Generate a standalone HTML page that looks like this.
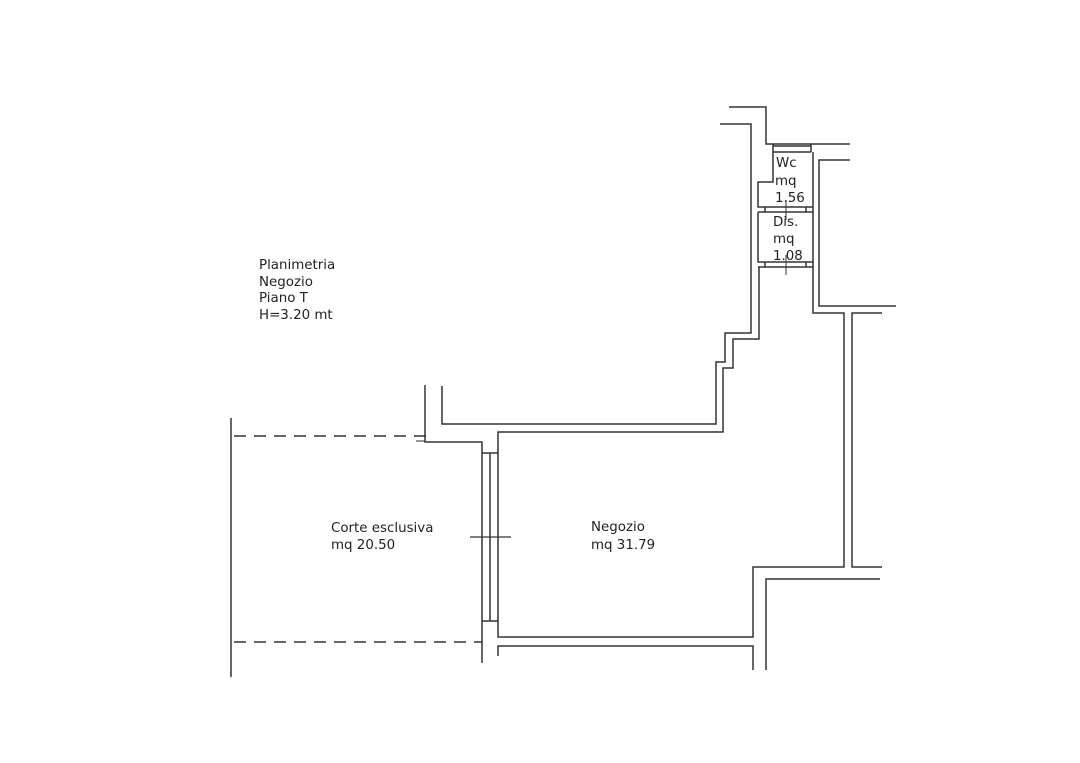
<!DOCTYPE html>
<html><head><meta charset="utf-8"><style>
html,body{margin:0;padding:0;background:#fff;width:1080px;height:763px;overflow:hidden}
svg{display:block}
text{font-family:"DejaVu Sans","Liberation Sans",sans-serif;font-size:13.4px;fill:#222}
</style></head><body>
<svg width="1080" height="763" viewBox="0 0 1080 763" xmlns="http://www.w3.org/2000/svg">
<g fill="none" stroke="#333" stroke-width="1.5">
<polyline points="729,107 766,107 766,144 850,144"/>
<polyline points="720,124 751,124 751,333 725,333 725,362 716,362 716,424 442,424 442,386"/>
<polyline points="813,152 813,313 844,313 844,567 753,567 753,637 498,637 498,432 723,432 723,368 733,368 733,339 759,339 759,267"/>
<polyline points="850,160 819,160 819,306 896,306"/>
<polyline points="882,313 852,313 852,567 882,567"/>
<polyline points="766,670 766,579 880,579"/>
<polyline points="498,656 498,646 753,646 753,670"/>
<line x1="773" y1="146" x2="811" y2="146"/>
<line x1="773" y1="152" x2="811" y2="152"/>
<line x1="773" y1="144" x2="773" y2="152"/><line x1="811" y1="144" x2="811" y2="152"/>
<polyline points="773,152 773,182 758,182 758,207 813,207"/>
<line x1="758" y1="212" x2="813" y2="212"/>
<polyline points="758,212 758,262 813,262"/>
<line x1="758" y1="267" x2="813" y2="267"/>
<line x1="765" y1="207" x2="765" y2="212"/><line x1="806" y1="207" x2="806" y2="212"/>
<line x1="765" y1="262" x2="765" y2="267"/><line x1="806" y1="262" x2="806" y2="267"/>
<line x1="786" y1="200" x2="786" y2="220" stroke-width="1"/>
<line x1="786" y1="255" x2="786" y2="275" stroke-width="1"/>
<polyline points="425,385 425,442 482,442 482,663"/>
<line x1="416" y1="441" x2="425" y2="441" stroke-width="1"/>
<line x1="490" y1="453" x2="490" y2="621"/>
<line x1="482" y1="453" x2="498" y2="453"/>
<line x1="482" y1="621" x2="498" y2="621"/>
<line x1="470" y1="537" x2="511" y2="537" stroke-width="1.2"/>
<line x1="231" y1="418" x2="231" y2="677"/>
<line x1="234" y1="436" x2="426" y2="436" stroke-dasharray="12,8"/>
<line x1="234" y1="642" x2="482" y2="642" stroke-dasharray="12,8"/>
</g>
<text x="259" y="269">Planimetria</text>
<text x="259" y="286">Negozio</text>
<text x="259" y="302">Piano T</text>
<text x="259" y="319">H=3.20 mt</text>
<text x="331" y="532">Corte esclusiva</text>
<text x="331" y="549">mq 20.50</text>
<text x="591" y="531">Negozio</text>
<text x="591" y="549">mq 31.79</text>
<text x="776" y="167">Wc</text>
<text x="775" y="185">mq</text>
<text x="775" y="202">1.56</text>
<text x="773" y="226">Dis.</text>
<text x="773" y="243">mq</text>
<text x="773" y="260">1.08</text>
</svg>
</body></html>
